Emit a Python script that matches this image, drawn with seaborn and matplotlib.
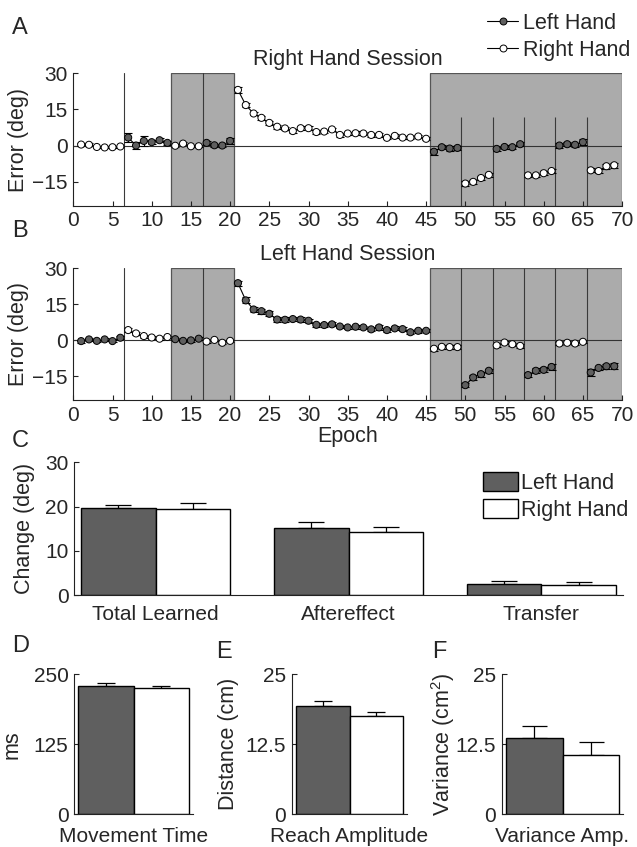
import numpy as np
import pandas as pd
import matplotlib
matplotlib.use("Agg")
import matplotlib.pyplot as plt
from matplotlib.lines import Line2D
from matplotlib.patches import Patch
import seaborn as sns

# ---------------- data ----------------
epochs = list(range(1, 70))
block_starts = [1, 7, 13, 17, 21, 46, 50, 54, 58, 62, 66]
hands_right_session = ["Right Hand", "Left Hand"] * 5 + ["Right Hand"]
hands_left_session = ["Left Hand", "Right Hand"] * 5 + ["Left Hand"]

right_session_err = [0.4, 0.3, -0.6, -0.8, -0.7, -0.4,
                     3.3, 0.0, 1.9, 1.4, 2.2, 1.1,
                     -0.1, 0.8, -0.3, -0.3,
                     1.1, 0.1, 0.0, 1.9,
                     23.1, 16.8, 13.3, 11.5, 9.4, 7.8, 7.1, 6.0, 7.2, 7.2, 5.6, 5.8, 6.7,
                     4.4, 5.0, 5.1, 5.0, 4.4, 4.4, 3.2, 4.0, 3.3, 3.3, 3.75, 2.8,
                     -2.6, -0.7, -1.25, -1.0,
                     -15.8, -15.1, -13.5, -12.2,
                     -1.4, -0.6, -0.7, 0.55,
                     -12.4, -12.4, -11.5, -10.6,
                     0.0, 0.55, 0.3, 1.4,
                     -10.3, -10.6, -8.6, -8.2]
right_session_se = [0.6, 0.6, 0.4, 0.4, 0.4, 0.4,
                    1.9, 1.5, 1.9, 0.8, 0.8, 0.8,
                    0.6, 0.6, 0.5, 0.5,
                    0.7, 0.6, 0.6, 1.3,
                    1.2, 1.0, 0.8, 0.9, 0.9, 0.9, 0.8, 0.7, 0.8, 0.8, 0.8, 0.8, 0.7,
                    0.8, 0.8, 0.8, 0.7, 0.7, 0.7, 0.6, 0.8, 0.6, 0.6, 0.6, 0.6,
                    1.3, 0.8, 0.9, 0.8,
                    0.9, 0.7, 0.8, 0.9,
                    0.7, 0.7, 0.7, 0.9,
                    0.7, 0.7, 0.8, 1.0,
                    1.0, 0.8, 0.8, 1.1,
                    0.9, 0.8, 1.0, 1.1]

left_session_err = [-0.4, 0.3, -0.3, 0.3, -0.4, 1.0,
                    4.2, 2.8, 1.7, 1.1, 0.6, 1.3,
                    0.4, -0.3, -0.1, 0.6,
                    -0.6, 0.1, -1.1, -0.3,
                    23.8, 16.6, 12.8, 12.1, 11.0, 8.6, 8.5, 8.8, 8.6, 8.1, 6.4, 6.3, 6.6,
                    5.7, 5.3, 5.6, 5.3, 4.5, 5.3, 4.2, 4.9, 4.6, 3.3, 3.9, 3.9,
                    -3.6, -2.8, -2.9, -2.9,
                    -18.8, -15.6, -14.2, -12.8,
                    -2.2, -1.0, -1.7, -2.4,
                    -14.6, -12.8, -12.4, -11.2,
                    -1.4, -1.1, -1.4, -0.7,
                    -13.5, -11.6, -10.9, -10.9]
left_session_se = [0.6, 0.5, 0.5, 0.5, 0.5, 0.6,
                   0.8, 0.6, 0.6, 0.5, 0.5, 0.5,
                   0.5, 0.5, 0.5, 0.6,
                   0.6, 0.5, 0.7, 0.5,
                   1.0, 1.3, 1.2, 1.0, 1.0, 1.0, 1.0, 0.9, 0.9, 0.9, 0.8, 0.8, 0.8,
                   0.7, 0.7, 0.8, 0.8, 0.8, 0.9, 0.9, 0.8, 0.8, 0.8, 0.8, 0.7,
                   0.8, 0.7, 0.7, 0.7,
                   0.8, 1.1, 1.0, 0.9,
                   0.7, 0.7, 0.7, 0.8,
                   0.8, 1.0, 1.0, 1.2,
                   0.6, 0.6, 0.6, 0.7,
                   1.5, 1.0, 1.0, 1.2]

hand_order = ["Left Hand", "Right Hand"]
measures = ["Total Learned", "Aftereffect", "Transfer"]
change_left = [19.67, 15.2, 2.4]
change_left_se = [0.68, 1.2, 0.8]
change_right = [19.37, 14.3, 2.2]
change_right_se = [1.35, 1.0, 0.7]

movement_time = [228.6, 225.6]
movement_time_se = [5.3, 4.2]
reach_amp = [19.3, 17.5]
reach_amp_se = [0.9, 0.7]
variance_amp = [13.57, 10.65]
variance_amp_se = [2.2, 2.27]

# ---------------- style ----------------
sns.set_style("ticks")
plt.rcParams["font.family"] = ["Liberation Sans", "DejaVu Sans"]
plt.rcParams["mathtext.fontset"] = "custom"
plt.rcParams["mathtext.rm"] = "Liberation Sans"
plt.rcParams["mathtext.it"] = "Liberation Sans:italic"
plt.rcParams["axes.linewidth"] = 0.8
plt.rcParams["axes.edgecolor"] = "#222222"

DARK = "#5f5f5f"
SHADE = "#ababab"
SHADE_EDGE = "#555555"
VLINE = "#3a3a3a"
palette = {"Left Hand": DARK, "Right Hand": "white"}
TICK = 15
LAB = 15.5

W, H = 637, 847
fig = plt.figure(figsize=(W / 100, H / 100), dpi=100)


def px_axes(left, top, right, bottom):
    return fig.add_axes([left / W, 1 - bottom / H, (right - left) / W, (bottom - top) / H])


def style_ax(ax):
    sns.despine(ax=ax)
    ax.tick_params(direction="in", length=3.5, width=0.8, labelsize=TICK, pad=4,
                   color="#222222")


def epoch_panel(ax, vals, ses, block_hands, title, short_lines):
    ax.axvspan(12.5, 20.5, facecolor=SHADE, edgecolor=SHADE_EDGE, lw=0.9, zorder=0)
    ax.axvspan(45.5, 70, facecolor=SHADE, edgecolor=SHADE_EDGE, lw=0.9, zorder=0)
    ax.axvline(6.5, color=VLINE, lw=0.8, zorder=1)
    ax.axvline(16.5, color=VLINE, lw=0.8, zorder=1)
    inner = [49.5, 53.5, 57.5, 61.5, 65.5]
    if short_lines:
        ax.vlines(inner, -25, 12, color=VLINE, lw=0.8, zorder=1)
    else:
        ax.vlines(inner, -25, 30, color=VLINE, lw=0.8, zorder=1)
    ax.axhline(0, color="#333333", lw=0.8, zorder=1)

    block = np.searchsorted(block_starts, epochs, side="right") - 1
    df = pd.DataFrame({"epoch": epochs, "err": vals, "se": ses, "block": block,
                       "hand": [block_hands[b] for b in block]})
    sns.lineplot(data=df, x="epoch", y="err", units="block", estimator=None,
                 color="black", lw=0.8, ax=ax, zorder=3)
    ax.errorbar(df["epoch"], df["err"], yerr=df["se"], fmt="none", ecolor="black",
                elinewidth=0.8, capsize=2.6, capthick=0.8, zorder=3)
    sns.scatterplot(data=df, x="epoch", y="err", hue="hand", palette=palette,
                    edgecolor="black", linewidth=0.7, s=26, legend=False, ax=ax, zorder=4)
    ax.set_xlim(0, 70)
    ax.set_ylim(-25, 30)
    ax.set_xticks(range(0, 71, 5))
    ax.set_yticks([-15, 0, 15, 30])
    ax.set_title(title, fontsize=LAB, pad=6)
    ax.set_ylabel("Error (deg)", fontsize=LAB)
    ax.yaxis.set_label_coords(-0.081, 0.5)
    ax.set_xlabel("")
    style_ax(ax)


axA = px_axes(73.3, 73.3, 622.1, 205.7)
epoch_panel(axA, right_session_err, right_session_se, hands_right_session,
            "Right Hand Session", True)
axB = px_axes(73.3, 268.3, 622.1, 400.0)
epoch_panel(axB, left_session_err, left_session_se, hands_left_session,
            "Left Hand Session", False)
axB.set_xlabel("Epoch", fontsize=LAB, labelpad=1)

legend_handles = [Line2D([], [], color="black", lw=0.8, marker="o", markersize=5,
                         markerfacecolor=palette[h], markeredgecolor="black",
                         markeredgewidth=0.7) for h in hand_order]
fig.legend(legend_handles, hand_order, loc="upper left",
           bbox_to_anchor=(487 / W, 1 - 13 / H), frameon=False, borderpad=0,
           borderaxespad=0, handlelength=1.45, handletextpad=0.2, labelspacing=0.28,
           fontsize=LAB)

# ---------------- panel C ----------------
axC = px_axes(74, 462.3, 623, 595)
dfC = pd.DataFrame({
    "measure": measures * 2,
    "value": change_left + change_right,
    "se": change_left_se + change_right_se,
    "hand": ["Left Hand"] * 3 + ["Right Hand"] * 3,
})
sns.barplot(data=dfC, x="measure", y="value", hue="hand", hue_order=hand_order,
            order=measures, palette=palette, edgecolor="black", linewidth=1.0,
            width=0.773, errorbar=None, legend=False, ax=axC, saturation=1)


def bar_errors(ax, ses_by_hue, capsize):
    for cont, ses in zip(ax.containers, ses_by_hue):
        xs = [b.get_x() + b.get_width() / 2 for b in cont]
        ys = [b.get_height() for b in cont]
        ax.errorbar(xs, ys, yerr=[np.zeros(len(ses)), ses], fmt="none",
                    ecolor="black", elinewidth=0.9, capsize=capsize, capthick=0.9,
                    zorder=0)


bar_errors(axC, [change_left_se, change_right_se], 9.5)
axC.set_xlim(-0.424, 2.424)
axC.set_ylim(0, 30)
axC.set_yticks([0, 10, 20, 30])
axC.set_xlabel("")
axC.set_ylabel("Change (deg)", fontsize=LAB)
axC.yaxis.set_label_coords(-0.071, 0.5)
style_ax(axC)
axC.tick_params(axis="x", length=0, pad=7)

bar_handles = [Patch(facecolor=palette[h], edgecolor="black", linewidth=1.0) for h in hand_order]
fig.legend(bar_handles, hand_order, loc="upper left",
           bbox_to_anchor=(482.5 / W, 1 - 472 / H), frameon=False, borderpad=0,
           borderaxespad=0, handlelength=1.63, handleheight=1.0, handletextpad=0.15,
           labelspacing=0.22, fontsize=LAB)

# ---------------- panels D, E, F ----------------
def small_bar(ax, name, vals, ses, ylim, yticks, yticklabels, ylabel, label_x, capsize):
    df = pd.DataFrame({"measure": [name, name], "value": vals, "hand": hand_order})
    sns.barplot(data=df, x="measure", y="value", hue="hand", hue_order=hand_order,
                palette=palette, edgecolor="black", linewidth=1.0, width=0.8,
                errorbar=None, legend=False, ax=ax, saturation=1)
    bar_errors(ax, [[s] for s in ses], capsize)
    ax.set_xlim(-0.43, 0.43)
    ax.set_ylim(*ylim)
    ax.set_yticks(yticks)
    ax.set_yticklabels(yticklabels)
    ax.set_xlabel("")
    ax.set_ylabel(ylabel, fontsize=LAB)
    ax.yaxis.set_label_coords(label_x, 0.5)
    style_ax(ax)
    ax.tick_params(axis="x", length=0, pad=9)


axD = px_axes(74, 674.3, 193.3, 814.3)
small_bar(axD, "Movement Time", movement_time, movement_time_se, (0, 250),
          [0, 125, 250], ["0", "125", "250"], "ms", -0.43, 6.5)
axE = px_axes(291.7, 674.3, 407.3, 814.3)
small_bar(axE, "Reach Amplitude", reach_amp, reach_amp_se, (0, 25),
          [0, 12.5, 25], ["0", "12.5", "25"], "Distance (cm)", -0.46, 6.5)
axF = px_axes(501.7, 674.3, 623.3, 814.3)
small_bar(axF, "Variance Amp.", variance_amp, variance_amp_se, (0, 25),
          [0, 12.5, 25], ["0", "12.5", "25"], "Variance (cm$^2$)", -0.37, 9)

# ---------------- panel letters ----------------
for letter, x, y in [("A", 12, 34), ("B", 12, 237), ("C", 12, 447),
                     ("D", 12, 652), ("E", 216, 658), ("F", 432, 658)]:
    fig.text(x / W, 1 - y / H, letter, fontsize=17, ha="left", va="baseline")

fig.savefig("out.png", dpi=100)
